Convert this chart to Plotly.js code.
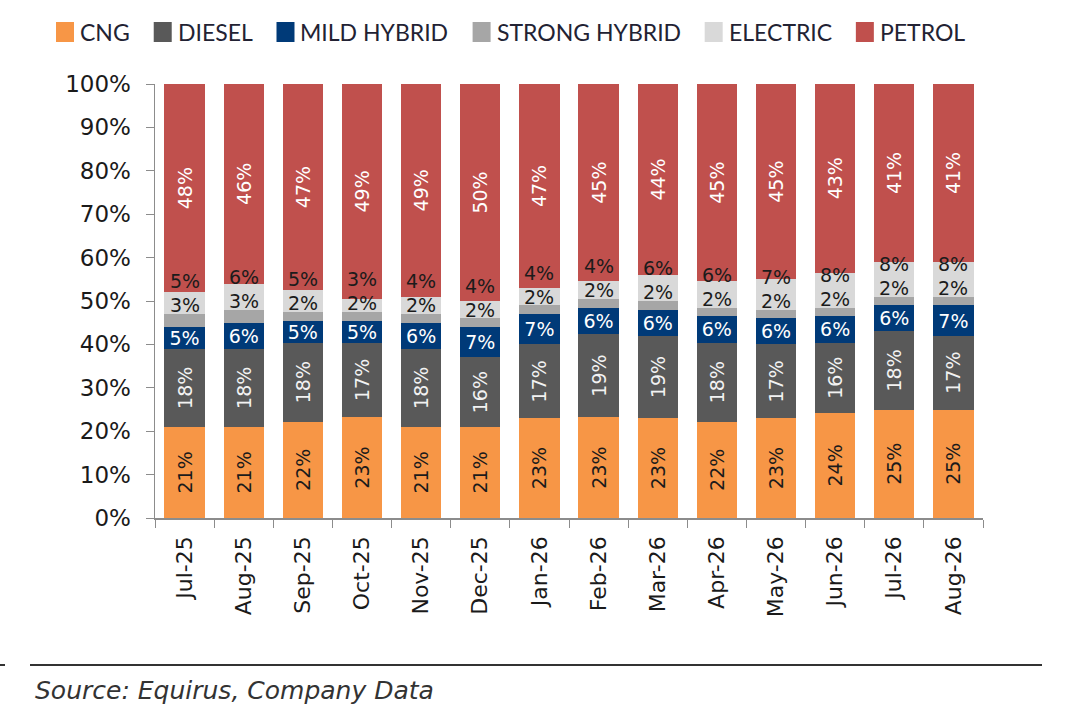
<!DOCTYPE html>
<html>
<head>
<meta charset="utf-8">
<script src="https://cdn.plot.ly/plotly-3.0.1.min.js"></script>
<style>
	html, body { margin: 0; padding: 0; background: #fff; }
	#chart { width: 1080px; height: 721px; }
</style>
</head>
<body>
<div id="chart"></div>
<script>
var months = ["Jul-25", "Aug-25", "Sep-25", "Oct-25", "Nov-25", "Dec-25", "Jan-26",
	"Feb-26", "Mar-26", "Apr-26", "May-26", "Jun-26", "Jul-26", "Aug-26"];

var cng      = [21, 21, 22, 23, 21, 21, 23, 23, 23, 22, 23, 24, 25, 25];
var diesel   = [18, 18, 18, 17, 18, 16, 17, 19, 19, 18, 17, 16, 18, 17];
var mild     = [5, 6, 5, 5, 6, 7, 7, 6, 6, 6, 6, 6, 6, 7];
var strong   = [3, 3, 2, 2, 2, 2, 2, 2, 2, 2, 2, 2, 2, 2];
var electric = [5, 6, 5, 3, 4, 4, 4, 4, 6, 6, 7, 8, 8, 8];
var petrol   = [48, 46, 47, 49, 49, 50, 47, 45, 44, 45, 45, 43, 41, 41];

var seriesNames  = ["CNG", "DIESEL", "MILD HYBRID", "STRONG HYBRID", "ELECTRIC", "PETROL"];
var seriesColors = ["#F79646", "#595959", "#003A78", "#A6A6A6", "#D9D9D9", "#C0504D"];

var labelFont = "DejaVu Sans, Verdana, sans-serif";
var legendFont = "Lato, sans-serif";

// plot area in pixels, used to place the legend and footer in paper units
var W = 1080, H = 721;
var plotL = 155, plotR = 983, plotT = 84, plotB = 518;
function px2x(p){ return (p - plotL) / (plotR - plotL); }
function px2y(p){ return (plotB - p) / (plotB - plotT); }

function pct(arr){
	return arr.map(function(v){ return v + "%"; });
}

function barTrace(idx, vals, textColor, angle){
	return {
		type: "bar",
		name: seriesNames[idx],
		x: months,
		y: vals,
		text: pct(vals),
		texttemplate: "%{text}",
		textposition: "inside",
		insidetextanchor: "middle",
		textangle: angle,
		insidetextfont: {family: labelFont, size: 19, color: textColor},
		marker: {color: seriesColors[idx], line: {width: 0}},
		hoverinfo: "x+name+text"
	};
}

var data = [
	barTrace(0, cng, "#1b1b1b", -90),
	barTrace(1, diesel, "#f2f2f2", -90),
	barTrace(2, mild, "#ffffff", 0),
	barTrace(3, strong, "#1b1b1b", 0),
	barTrace(4, electric, "#1b1b1b", 0),
	barTrace(5, petrol, "#ffffff", -90)
];
// thin segments get their labels drawn above them as annotations
data[3].textposition = "none";
data[4].textposition = "none";

var annotations = [];
var shapes = [];
for (var i = 0; i < months.length; i++){
	var total = cng[i] + diesel[i] + mild[i] + strong[i] + electric[i] + petrol[i];
	var shTop = (cng[i] + diesel[i] + mild[i] + strong[i]) / total * 100;
	var eTop = shTop + electric[i] / total * 100;
	var shY = shTop + 2;
	var eY = Math.max(eTop - 0.5, shY + 5.5);
	annotations.push({
		x: months[i], y: shY, xref: "x", yref: "y", text: strong[i] + "%",
		showarrow: false, yanchor: "middle",
		font: {family: labelFont, size: 19, color: "#1b1b1b"}
	});
	annotations.push({
		x: months[i], y: eY, xref: "x", yref: "y", text: electric[i] + "%",
		showarrow: false, yanchor: "middle",
		font: {family: labelFont, size: 19, color: "#1b1b1b"}
	});
}

// legend row on top, spread like the original
var ctx = document.createElement("canvas").getContext("2d");
var legendSize = 23;
ctx.font = legendSize + "px Lato";
var sq = 18, sqGap = 6, startX = 56, endX = 965, legY = 32;
var widths = seriesNames.map(function(n){ return ctx.measureText(n).width; });
var used = widths.reduce(function(a, w){ return a + w + sq + sqGap; }, 0);
var gap = Math.max(10, (endX - startX - used) / (seriesNames.length - 1));
var cx = startX;
for (var k = 0; k < seriesNames.length; k++){
	shapes.push({
		type: "rect", xref: "paper", yref: "paper",
		x0: px2x(cx), x1: px2x(cx + sq), y0: px2y(legY + 10), y1: px2y(legY - 10),
		fillcolor: seriesColors[k], line: {width: 0}
	});
	annotations.push({
		xref: "paper", yref: "paper", x: px2x(cx + sq + sqGap), y: px2y(legY),
		xanchor: "left", yanchor: "middle", showarrow: false,
		text: seriesNames[k], xshift: -2,
		font: {family: legendFont, size: legendSize, color: "#222233"}
	});
	cx += sq + sqGap + widths[k] + gap;
}

annotations.push({
	xref: "paper", yref: "paper", x: px2x(33), y: px2y(690),
	xanchor: "left", yanchor: "middle", showarrow: false,
	text: "<i>Source: Equirus, Company Data</i>",
	font: {family: labelFont, size: 25, color: "#333333"}
});

shapes.push({type: "line", xref: "paper", yref: "paper",
	x0: px2x(30), x1: px2x(1042), y0: px2y(665), y1: px2y(665),
	line: {color: "#333333", width: 2}});
shapes.push({type: "line", xref: "paper", yref: "paper",
	x0: px2x(0), x1: px2x(5), y0: px2y(665), y1: px2y(665),
	line: {color: "#333333", width: 2}});

var layout = {
	width: W,
	height: H,
	barmode: "stack",
	barnorm: "percent",
	bargap: 0.32,
	paper_bgcolor: "#ffffff",
	plot_bgcolor: "#ffffff",
	margin: {l: plotL, r: W - plotR, t: plotT, b: H - plotB},
	showlegend: false,
	xaxis: {
		type: "category",
		tickson: "boundaries",
		ticks: "outside",
		ticklen: 8,
		tickcolor: "#8c8c8c",
		showline: true,
		linecolor: "#8c8c8c",
		linewidth: 1.5,
		showgrid: false,
		tickangle: -90,
		ticklabelstandoff: 8,
		tickfont: {family: labelFont, size: 22, color: "#1a1a1a"},
		fixedrange: true
	},
	yaxis: {
		range: [0, 100],
		dtick: 10,
		ticksuffix: "%",
		ticks: "outside",
		ticklen: 8,
		tickcolor: "#8c8c8c",
		showline: true,
		linecolor: "#8c8c8c",
		linewidth: 1.5,
		showgrid: false,
		zeroline: false,
		ticklabelstandoff: 10,
		tickfont: {family: labelFont, size: 23, color: "#1a1a1a"},
		fixedrange: true
	},
	shapes: shapes,
	annotations: annotations,
	uniformtext: {mode: "show", minsize: 19}
};

Plotly.newPlot("chart", data, layout, {displayModeBar: false, staticPlot: true});
</script>
</body>
</html>
